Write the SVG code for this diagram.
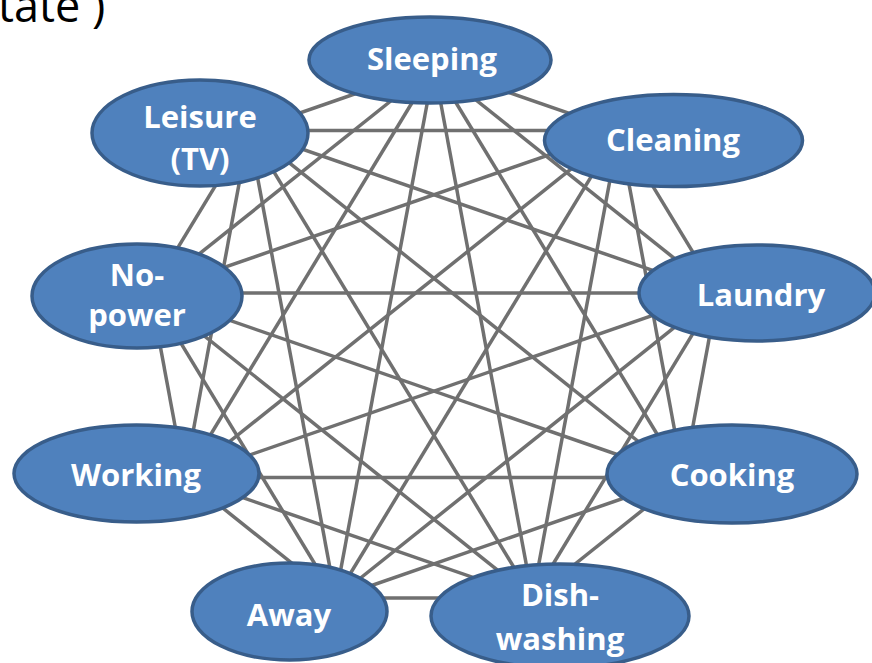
<svg xmlns="http://www.w3.org/2000/svg" width="872" height="663" viewBox="0 0 872 663">
  <defs>
    <filter id="soft" x="-5%" y="-5%" width="110%" height="110%">
      <feGaussianBlur stdDeviation="0.7"/>
    </filter>
  </defs>
  <style>
    .edge { stroke: #6f6f6f; stroke-width: 3.5; fill: none; }
    .node ellipse { fill: #4f81bd; stroke: #385d8a; stroke-width: 3.5; }
    .node text { fill: #ffffff; font-family: "Open Sans", "Noto Sans", sans-serif; font-weight: 700; font-size: 31px; text-anchor: middle; }
    .title { fill: #000000; font-family: "Open Sans", "Noto Sans", sans-serif; font-size: 45px; }
  </style>
  <rect width="872" height="663" fill="#ffffff"/>

  <text class="title" x="-2" y="22">tate )</text>

  <!-- complete graph on nine vertices of a nonagon -->
  <g id="connectors" filter="url(#soft)">
    <line class="edge" x1="434" y1="66.5" x2="619.1" y2="130.6"/>
    <line class="edge" x1="434" y1="66.5" x2="717.6" y2="292.9"/>
    <line class="edge" x1="434" y1="66.5" x2="683.4" y2="477.5"/>
    <line class="edge" x1="434" y1="66.5" x2="532.5" y2="598"/>
    <line class="edge" x1="434" y1="66.5" x2="335.5" y2="598"/>
    <line class="edge" x1="434" y1="66.5" x2="184.6" y2="477.5"/>
    <line class="edge" x1="434" y1="66.5" x2="150.4" y2="292.9"/>
    <line class="edge" x1="434" y1="66.5" x2="248.9" y2="130.6"/>
    <line class="edge" x1="619.1" y1="130.6" x2="717.6" y2="292.9"/>
    <line class="edge" x1="619.1" y1="130.6" x2="683.4" y2="477.5"/>
    <line class="edge" x1="619.1" y1="130.6" x2="532.5" y2="598"/>
    <line class="edge" x1="619.1" y1="130.6" x2="335.5" y2="598"/>
    <line class="edge" x1="619.1" y1="130.6" x2="184.6" y2="477.5"/>
    <line class="edge" x1="619.1" y1="130.6" x2="150.4" y2="292.9"/>
    <line class="edge" x1="619.1" y1="130.6" x2="248.9" y2="130.6"/>
    <line class="edge" x1="717.6" y1="292.9" x2="683.4" y2="477.5"/>
    <line class="edge" x1="717.6" y1="292.9" x2="532.5" y2="598"/>
    <line class="edge" x1="717.6" y1="292.9" x2="335.5" y2="598"/>
    <line class="edge" x1="717.6" y1="292.9" x2="184.6" y2="477.5"/>
    <line class="edge" x1="717.6" y1="292.9" x2="150.4" y2="292.9"/>
    <line class="edge" x1="717.6" y1="292.9" x2="248.9" y2="130.6"/>
    <line class="edge" x1="683.4" y1="477.5" x2="532.5" y2="598"/>
    <line class="edge" x1="683.4" y1="477.5" x2="335.5" y2="598"/>
    <line class="edge" x1="683.4" y1="477.5" x2="184.6" y2="477.5"/>
    <line class="edge" x1="683.4" y1="477.5" x2="150.4" y2="292.9"/>
    <line class="edge" x1="683.4" y1="477.5" x2="248.9" y2="130.6"/>
    <line class="edge" x1="532.5" y1="598" x2="335.5" y2="598"/>
    <line class="edge" x1="532.5" y1="598" x2="184.6" y2="477.5"/>
    <line class="edge" x1="532.5" y1="598" x2="150.4" y2="292.9"/>
    <line class="edge" x1="532.5" y1="598" x2="248.9" y2="130.6"/>
    <line class="edge" x1="335.5" y1="598" x2="184.6" y2="477.5"/>
    <line class="edge" x1="335.5" y1="598" x2="150.4" y2="292.9"/>
    <line class="edge" x1="335.5" y1="598" x2="248.9" y2="130.6"/>
    <line class="edge" x1="184.6" y1="477.5" x2="150.4" y2="292.9"/>
    <line class="edge" x1="184.6" y1="477.5" x2="248.9" y2="130.6"/>
    <line class="edge" x1="150.4" y1="292.9" x2="248.9" y2="130.6"/>
  </g>

  <g id="sleeping" class="node">
    <ellipse cx="430" cy="60" rx="121" ry="43"/>
    <text x="432" y="70">Sleeping</text>
  </g>
  <g id="cleaning" class="node">
    <ellipse cx="673.5" cy="140.5" rx="129" ry="46"/>
    <text x="673" y="151">Cleaning</text>
  </g>
  <g id="leisure" class="node">
    <ellipse cx="200" cy="133" rx="108" ry="53"/>
    <text x="200" y="128">Leisure</text>
    <text x="200" y="170">(TV)</text>
  </g>
  <g id="no-power" class="node">
    <ellipse cx="137" cy="296" rx="105" ry="52"/>
    <text x="137" y="286">No-</text>
    <text x="137" y="326">power</text>
  </g>
  <g id="laundry" class="node">
    <ellipse cx="757" cy="293" rx="118" ry="48"/>
    <text x="761" y="306">Laundry</text>
  </g>
  <g id="working" class="node">
    <ellipse cx="136.5" cy="473.5" rx="122.5" ry="48.5"/>
    <text x="136" y="486">Working</text>
  </g>
  <g id="cooking" class="node">
    <ellipse cx="732" cy="474" rx="125" ry="49"/>
    <text x="732" y="486">Cooking</text>
  </g>
  <g id="away" class="node">
    <ellipse cx="289.5" cy="611.5" rx="97.5" ry="48.5"/>
    <text x="289" y="626">Away</text>
  </g>
  <g id="dishwashing" class="node">
    <ellipse cx="560" cy="616" rx="129" ry="52"/>
    <text x="560" y="606">Dish-</text>
    <text x="560" y="650">washing</text>
  </g>
</svg>
